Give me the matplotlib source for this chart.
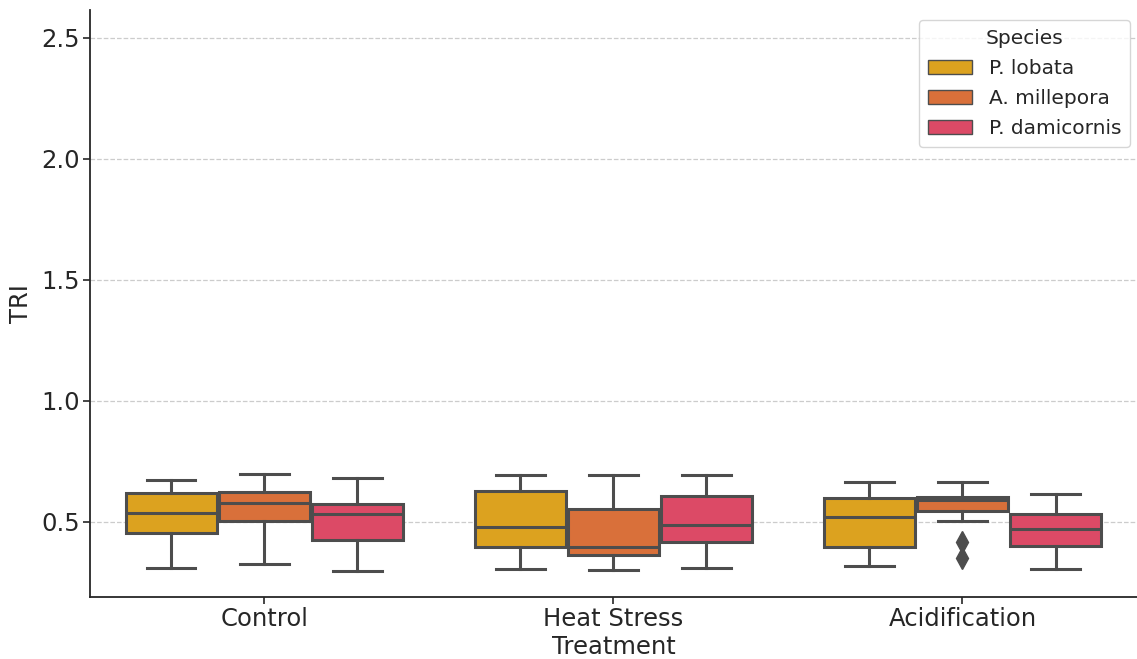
import matplotlib
matplotlib.use("Agg")
import matplotlib.pyplot as plt
from matplotlib.patches import Patch

treatments = ["Control", "Heat Stress", "Acidification"]
species = ["P. lobata", "A. millepora", "P. damicornis"]
colors = ["#DCA21F", "#D9703A", "#DC4A66"]

# per species: list over treatments of (whislo, q1, med, q3, whishi)
p_lobata = [(0.311, 0.456, 0.536, 0.621, 0.674),
            (0.304, 0.395, 0.481, 0.629, 0.695),
            (0.317, 0.395, 0.522, 0.599, 0.664)]
a_millepora = [(0.325, 0.505, 0.577, 0.623, 0.697),
               (0.302, 0.362, 0.395, 0.554, 0.695),
               (0.505, 0.545, 0.591, 0.602, 0.667)]
p_damicornis = [(0.299, 0.426, 0.533, 0.574, 0.681),
                (0.311, 0.419, 0.488, 0.609, 0.695),
                (0.304, 0.401, 0.470, 0.534, 0.614)]
outliers = {(1, 2): [0.419, 0.350]}  # (species index, treatment index)

all_stats = [p_lobata, a_millepora, p_damicornis]

text_c = "#262626"
plt.rcParams["text.color"] = text_c
plt.rcParams["axes.labelcolor"] = text_c
plt.rcParams["xtick.color"] = text_c
plt.rcParams["ytick.color"] = text_c

fig = plt.figure(figsize=(11.37, 6.59), dpi=100)
ax = fig.add_axes([0.079, 0.094, 0.921, 0.891])

line_c = "#4d4d4d"
width = 0.8 / 3
for si, (sp, col) in enumerate(zip(species, colors)):
    stats = []
    for ti, vals in enumerate(all_stats[si]):
        lo, q1, med, q3, hi = vals
        stats.append(dict(whislo=lo, q1=q1, med=med, q3=q3, whishi=hi,
                          fliers=outliers.get((si, ti), [])))
    positions = [ti + (si - 1) * width for ti in range(len(treatments))]
    ax.bxp(stats, positions=positions, widths=width * 0.98, patch_artist=True,
           showfliers=True,
           boxprops=dict(facecolor=col, edgecolor=line_c, linewidth=2.2),
           medianprops=dict(color=line_c, linewidth=2.2),
           whiskerprops=dict(color=line_c, linewidth=2.2),
           capprops=dict(color=line_c, linewidth=2.2),
           capwidths=width * 0.52,
           flierprops=dict(marker="d", markerfacecolor=line_c, markeredgecolor=line_c,
                           markersize=11))

ax.set_xlim(-0.5, 2.5)
ax.set_ylim(0.19, 2.615)
ax.set_xticks(range(len(treatments)))
ax.set_xticklabels(treatments)
ax.set_yticks([0.5, 1.0, 1.5, 2.0, 2.5])
ax.tick_params(labelsize=17.5, length=5, width=1.2, pad=2)
ax.set_xlabel("Treatment", fontsize=17.5, labelpad=3)
ax.set_ylabel("TRI", fontsize=17.5, labelpad=6)
ax.yaxis.grid(True, linestyle="--", color="#cccccc", linewidth=0.9)
ax.set_axisbelow(True)
for s in ["top", "right"]:
    ax.spines[s].set_visible(False)
for s in ["left", "bottom"]:
    ax.spines[s].set_linewidth(1.3)
    ax.spines[s].set_color(text_c)

handles = [Patch(facecolor=c, edgecolor=line_c, label=s) for s, c in zip(species, colors)]
leg = ax.legend(handles=handles, title="Species", loc="upper right", fontsize=14.5,
                title_fontsize=14.5, frameon=True, borderpad=0.45, labelspacing=0.55,
                handlelength=2.2, bbox_to_anchor=(1.003, 1.0))
leg.get_frame().set_edgecolor("#cccccc")

fig.savefig("out.png", dpi=100)
